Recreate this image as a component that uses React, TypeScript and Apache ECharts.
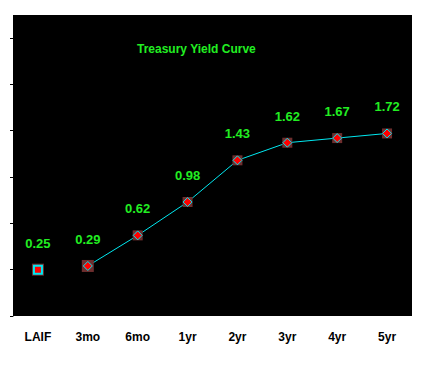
import React, { useEffect, useRef } from "react";
import * as echarts from "echarts";

const categories = ["LAIF", "3mo", "6mo", "1yr", "2yr", "3yr", "4yr", "5yr"];
const laifValues = [0.25, null, null, null, null, null, null, null];
const curveValues = [null, 0.29, 0.62, 0.98, 1.43, 1.62, 1.67, 1.72];
const titleText = "Treasury Yield Curve";

const GREEN = "#22ee22";
const CYAN = "#00e8f0";
const BROWN = "#6e2e2e";
const RED = "#ff0000";

export default function App() {
  const ref = useRef<HTMLDivElement>(null);
  useEffect(() => {
    if (!ref.current) return;
    const chart = echarts.init(ref.current, undefined, { renderer: "svg" });
    const labelStyle = {
      show: true,
      position: "top" as const,
      distance: 15,
      color: GREEN,
      fontFamily: "Liberation Sans, Arial, sans-serif",
      fontWeight: "bold" as const,
      fontSize: 13,
      formatter: (p: any) => (p.value == null ? "" : Number(p.value).toFixed(2)),
    };
    chart.setOption({
      animation: false,
      backgroundColor: "#ffffff",
      graphic: [
        {
          type: "rect",
          z: -10,
          silent: true,
          shape: { x: 13, y: 15, width: 399, height: 301 },
          style: { fill: "#000000" },
        },
        {
          type: "text",
          left: 137,
          top: 43,
          style: {
            text: titleText,
            fill: GREEN,
            font: "bold 12px 'Liberation Sans', Arial, sans-serif",
          },
        },
      ],
      grid: { left: 13, right: 10, top: 38, bottom: 56 },
      xAxis: {
        type: "category",
        data: categories,
        boundaryGap: true,
        axisLine: { show: false },
        axisTick: { show: false },
        axisLabel: {
          color: "#000000",
          fontFamily: "Liberation Sans, Arial, sans-serif",
          fontWeight: "bold",
          fontSize: 12,
          margin: 15,
        },
        splitLine: { show: false },
      },
      yAxis: {
        type: "value",
        min: -0.25,
        max: 2.75,
        interval: 0.5,
        axisLine: { show: true, lineStyle: { color: "#000000", width: 1 } },
        axisTick: { show: true, length: 3, inside: false, lineStyle: { color: "#000000", width: 1 } },
        axisLabel: { show: false },
        splitLine: { show: false },
      },
      series: [
        {
          name: "laifBack",
          type: "line",
          data: laifValues,
          symbol: "rect",
          symbolSize: 12,
          showSymbol: true,
          lineStyle: { width: 0 },
          itemStyle: { color: BROWN, borderWidth: 0 },
          z: 3,
        },
        {
          name: "laif",
          type: "line",
          data: laifValues,
          symbol: "rect",
          symbolSize: 8,
          lineStyle: { width: 0 },
          itemStyle: { color: RED, borderColor: CYAN, borderWidth: 2 },
          label: labelStyle,
          z: 4,
        },
        {
          name: "curveBack",
          type: "line",
          data: curveValues,
          symbol: "rect",
          symbolSize: (v: any, p: any) => (p.dataIndex === 1 ? 12 : 10),
          lineStyle: { color: CYAN, width: 1 },
          itemStyle: { color: BROWN, borderWidth: 0 },
          z: 3,
        },
        {
          name: "curve",
          type: "line",
          data: curveValues,
          symbol: "diamond",
          symbolSize: 9,
          lineStyle: { width: 0 },
          itemStyle: { color: RED, borderColor: CYAN, borderWidth: 1 },
          label: labelStyle,
          z: 4,
        },
      ],
    });
    return () => chart.dispose();
  }, []);
  return (
    <div
      ref={ref}
      style={{ position: "absolute", left: 0, top: 0, width: 422, height: 372 }}
    />
  );
}
